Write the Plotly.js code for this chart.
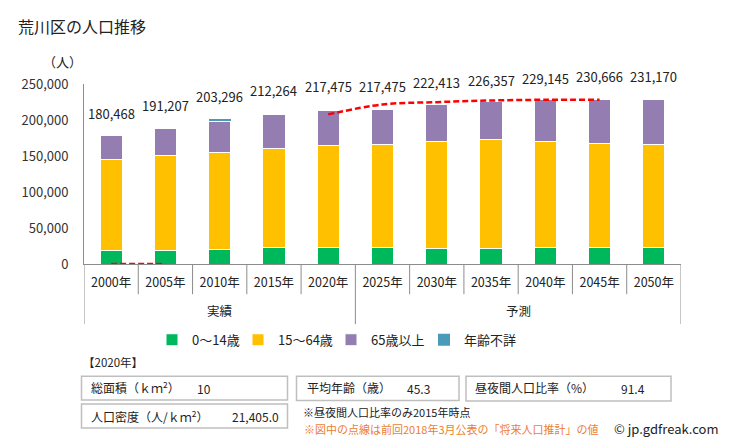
<!DOCTYPE html>
<html><head><meta charset="utf-8">
<script src="https://cdn.plot.ly/plotly-3.0.1.min.js"></script>
<style>html,body{margin:0;padding:0;background:#fff;}#chart{width:730px;height:446px;}</style>
</head><body><div id="chart"></div>
<script>
// ---- data ----
const categories = ['2000年','2005年','2010年','2015年','2020年','2025年','2030年','2035年','2040年','2045年','2050年'];
const groups = ['実績','実績','実績','実績','実績','予測','予測','予測','予測','予測','予測'];
const age0to14 = [18400, 18400, 19800, 23100, 23100, 23100, 21200, 21200, 23100, 23100, 23100];
const age15to64 = [126600, 132200, 134900, 137100, 141300, 142700, 148700, 151500, 146800, 144900, 143500];
const age65plus = [34100, 38200, 43800, 48000, 49300, 49300, 51300, 53100, 58600, 61000, 62400];
const ageUnknown = [0, 0, 2300, 0, 0, 0, 0, 0, 0, 0, 0];
const totals = [180468, 191207, 203296, 212264, 217475, 217475, 222413, 226357, 229145, 230666, 231170];
const prevProjection = [0, 0, null, null, 207800, 221600, 224800, 227100, 228100, 228100, null];
const seriesNames = ['0～14歳', '15～64歳', '65歳以上', '年齢不詳'];
const yTicks = [0, 50000, 100000, 150000, 200000, 250000];
const infoYear = '【2020年】';
const infoLabels = ['総面積（ｋｍ<sup>2</sup>）', '人口密度（人/ｋｍ<sup>2</sup>）', '平均年齢（歳）', '昼夜間人口比率（%）'];
const infoValues = ['10', '21,405.0', '45.3', '91.4'];

// ---- layout helpers ----
const L = 84, R = 681, T = 83.5, B = 264;
const px = x => (x - L) / (R - L);
const py = y => (B - y) / (B - T);
const FONT = '"Noto Sans CJK JP", "Noto Sans", sans-serif';
const colors = ['#00B85C', '#FFC000', '#937DB1', '#4A9BB8'];
const legendWidths = [41, 48, 48, 56];

const seriesData = [age0to14, age15to64, age65plus, ageUnknown];
const traces = seriesData.map((d, i) => ({
  type: 'bar', x: categories, y: d, name: seriesNames[i],
  marker: {color: colors[i], line: {color: '#ffffff', width: i === 3 ? 0 : 1}},
  legendwidth: legendWidths[i],
  hoverinfo: 'skip'
}));
traces.push({
  type: 'scatter', mode: 'lines', x: categories, y: prevProjection,
  line: {color: '#FF0000', width: 2.5, dash: '6px,3px', shape: 'spline'},
  connectgaps: false, showlegend: false, hoverinfo: 'skip'
});

const annotations = [];
categories.forEach((c, i) => {
  annotations.push({x: c, y: totals[i], xref: 'x', yref: 'y', yshift: 21, showarrow: false,
    text: totals[i].toLocaleString('en-US'), font: {size: 13, color: '#222'}, xanchor: 'center', yanchor: 'middle'});
});
// group labels
const uniq = [...new Set(groups)];
uniq.forEach(g => {
  const idx = groups.map((v, i) => v === g ? i : -1).filter(i => i >= 0);
  const center = (idx[0] + idx[idx.length - 1]) / 2;
  annotations.push({x: center, y: py(310.7), xref: 'x', yref: 'paper', showarrow: false,
    text: g, font: {size: 12.5, color: '#222'}, xanchor: 'center', yanchor: 'middle'});
});
// unit
annotations.push({x: px(84), y: py(61), xref: 'paper', yref: 'paper', showarrow: false, text: '（人）',
  font: {size: 13, color: '#222'}, xanchor: 'right', yanchor: 'middle'});
// info panel texts
const txt = (t, x, y, anchor, size, color) => ({x: px(x), y: py(y), xref: 'paper', yref: 'paper', showarrow: false,
  text: t, xanchor: anchor, yanchor: 'middle', font: {size: size, color: color || '#222'}});
annotations.push(txt(infoYear, 81, 362.7, 'left', 11.5));
annotations.push(txt(infoLabels[0], 89, 387.5, 'left', 12));
annotations.push(txt(infoValues[0], 203.5, 388.5, 'center', 12));
annotations.push(txt(infoLabels[1], 89, 416, 'left', 12));
annotations.push(txt(infoValues[1], 281, 417, 'right', 12));
annotations.push(txt(infoLabels[2], 305, 387.5, 'left', 12));
annotations.push(txt(infoValues[2], 418, 389, 'center', 12));
annotations.push(txt(infoLabels[3], 473, 387.5, 'left', 12));
annotations.push(txt(infoValues[3], 633, 389, 'center', 12));
annotations.push(txt('※昼夜間人口比率のみ2015年時点', 301, 412.7, 'left', 11));
annotations.push(txt('※図中の点線は前回2018年3月公表の「将来人口推計」の値', 302, 429.5, 'left', 11, '#ED7D31'));
annotations.push(txt('© jp.gdfreak.com', 612, 429, 'left', 13, '#222'));

const shapes = [];
for (let i = 0; i <= categories.length; i++) {
  const isGroup = i === 0 || i === categories.length || groups[i] !== groups[i - 1];
  shapes.push({type: 'line', xref: 'x', yref: 'paper', x0: i - 0.5, x1: i - 0.5, y0: 0,
    y1: py(isGroup ? 324.3 : 294.3), line: {color: '#8c8c8c', width: 1}});
}
const box = (x0, y0, x1, y1) => ({type: 'rect', xref: 'paper', yref: 'paper', x0: px(x0), x1: px(x1), y0: py(y0), y1: py(y1),
  line: {color: '#BFBFBF', width: 1.5}, fillcolor: 'rgba(0,0,0,0)'});
shapes.push(box(81.5, 376.5, 287.5, 400.5));
shapes.push(box(81.5, 404.5, 287.5, 428.5));
shapes.push(box(296.5, 376.5, 459, 401));
shapes.push(box(466, 376.5, 671, 401.5));

const layout = {
  width: 730, height: 446,
  margin: {l: L, r: 730 - R, t: T, b: 446 - B, pad: 0},
  paper_bgcolor: '#ffffff', plot_bgcolor: '#ffffff',
  font: {family: FONT, color: '#222', size: 13},
  title: {text: '荒川区の人口推移', x: 18 / 730, xref: 'container', xanchor: 'left',
    y: 1 - 27.5 / 446, yref: 'container', yanchor: 'middle', font: {size: 16, color: '#222'}},
  barmode: 'stack', bargap: 0.59,
  showlegend: true,
  legend: {orientation: 'h', x: px(152), xanchor: 'left', y: py(340), yanchor: 'middle',
    font: {size: 13, color: '#222'}, traceorder: 'normal', bgcolor: 'rgba(0,0,0,0)', itemwidth: 30},
  xaxis: {type: 'category', range: [-0.5, categories.length - 0.5], showline: true, linecolor: '#8c8c8c', linewidth: 1,
    ticks: '', showgrid: false, zeroline: false, tickfont: {size: 12.5, color: '#222'}, ticklabelstandoff: 7, fixedrange: true},
  yaxis: {range: [0, 250000], tickvals: yTicks, tickformat: ',', showline: true, linecolor: '#8c8c8c', linewidth: 1,
    ticks: '', showgrid: false, zeroline: false, tickfont: {size: 13, color: '#333'}, ticklabelstandoff: 12, fixedrange: true},
  annotations: annotations,
  shapes: shapes,
  hovermode: false
};
Plotly.newPlot('chart', traces, layout, {displayModeBar: false, staticPlot: true});
</script>
</body></html>
